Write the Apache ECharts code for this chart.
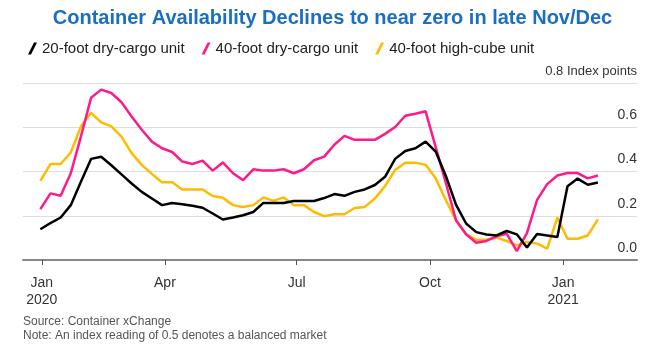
<!DOCTYPE html>
<html>
<head>
<meta charset="utf-8">
<script src="https://cdn.jsdelivr.net/npm/echarts@6/dist/echarts.min.js"></script>
<style>
  html, body { margin: 0; background: #fff; }
  #chart { width: 665px; height: 350px; }
</style>
</head>
<body>
<div id="chart"></div>
<script>
// weekly readings (Mondays)
const weeks = [
  '2020-01-06', '2020-01-13', '2020-01-20', '2020-01-27', '2020-02-03', '2020-02-10', '2020-02-17', '2020-02-24',
  '2020-03-02', '2020-03-09', '2020-03-16', '2020-03-23', '2020-03-30', '2020-04-06', '2020-04-13', '2020-04-20',
  '2020-04-27', '2020-05-04', '2020-05-11', '2020-05-18', '2020-05-25', '2020-06-01', '2020-06-08', '2020-06-15',
  '2020-06-22', '2020-06-29', '2020-07-06', '2020-07-13', '2020-07-20', '2020-07-27', '2020-08-03', '2020-08-10',
  '2020-08-17', '2020-08-24', '2020-08-31', '2020-09-07', '2020-09-14', '2020-09-21', '2020-09-28', '2020-10-05',
  '2020-10-12', '2020-10-19', '2020-10-26', '2020-11-02', '2020-11-09', '2020-11-16', '2020-11-23', '2020-11-30',
  '2020-12-07', '2020-12-14', '2020-12-21', '2020-12-28', '2021-01-04', '2021-01-11', '2021-01-18', '2021-01-25'
]
const dry20 = [
  0.139, 0.167, 0.192, 0.248, 0.354, 0.457, 0.467, 0.428, 0.387, 0.346, 0.308, 0.278, 0.248, 0.258,
  0.252, 0.245, 0.236, 0.210, 0.183, 0.192, 0.202, 0.217, 0.258, 0.258, 0.258, 0.267, 0.267, 0.267,
  0.280, 0.298, 0.290, 0.308, 0.319, 0.339, 0.376, 0.457, 0.493, 0.505, 0.535, 0.490, 0.380, 0.250,
  0.165, 0.126, 0.115, 0.111, 0.131, 0.116, 0.056, 0.117, 0.111, 0.104, 0.333, 0.368, 0.340, 0.350
]
const dry40 = [
  0.230, 0.301, 0.290, 0.392, 0.558, 0.733, 0.770, 0.755, 0.713, 0.649, 0.589, 0.535, 0.505, 0.488,
  0.445, 0.434, 0.449, 0.404, 0.441, 0.392, 0.361, 0.410, 0.404, 0.404, 0.410, 0.392, 0.410, 0.451,
  0.467, 0.521, 0.561, 0.543, 0.543, 0.543, 0.570, 0.601, 0.652, 0.661, 0.672, 0.510, 0.348, 0.180,
  0.116, 0.078, 0.086, 0.107, 0.119, 0.040, 0.121, 0.272, 0.343, 0.382, 0.393, 0.393, 0.369, 0.382
]
const highCube40 = [
  0.358, 0.434, 0.434, 0.486, 0.604, 0.665, 0.622, 0.604, 0.558, 0.483, 0.430, 0.389, 0.351, 0.351,
  0.319, 0.319, 0.319, 0.289, 0.281, 0.248, 0.240, 0.248, 0.283, 0.267, 0.283, 0.248, 0.248, 0.217,
  0.198, 0.207, 0.207, 0.235, 0.240, 0.278, 0.334, 0.407, 0.440, 0.440, 0.430, 0.369, 0.270, 0.180,
  0.116, 0.092, 0.092, 0.101, 0.086, 0.066, 0.081, 0.074, 0.051, 0.192, 0.096, 0.096, 0.111, 0.183
]
const seriesNames = ['20-foot dry-cargo unit', '40-foot dry-cargo unit', '40-foot high-cube unit']
const tickDates = ['2020-01-07', '2020-04-01', '2020-07-01', '2020-10-01', '2021-01-01']
const tickLabels = ['Jan\n2020', 'Apr', 'Jul', 'Oct', 'Jan\n2021']

// x axis runs in days counted from 1 Jan 2020
const day0 = Date.UTC(2020, 0, 1)
const toDay = (s) => {
  const p = s.split('-')
  return Math.round((Date.UTC(+p[0], +p[1] - 1, +p[2]) - day0) / 86400000)
}
const tickDays = tickDates.map(toDay)
const pairs = (vals) => weeks.map((d, i) => [toDay(d), vals[i]])

const font = 'Liberation Sans, Arial, sans-serif'
const slash = 'path://M0,12 L3,12 L9,0 L6,0 Z'

const chart = echarts.init(document.getElementById('chart'))
const option = {
  animation: false,
  textStyle: { fontFamily: font },
  title: {
    text: 'Container Availability Declines to near zero in late Nov/Dec',
    left: 'center',
    top: 3,
    textStyle: { color: '#1a6ec4', fontSize: 20, fontWeight: 'bold', fontFamily: font },
  },
  legend: {
    left: 23,
    top: 36,
    itemWidth: 9,
    itemHeight: 13,
    itemGap: 17,
    data: seriesNames.map((n) => ({ name: n, icon: slash })),
    textStyle: { color: '#222', fontSize: 15, fontFamily: font },
  },
  grid: { left: 23, right: 28, top: 83, bottom: 90 },
  xAxis: {
    type: 'value',
    min: toDay('2019-12-25'),
    max: toDay('2021-02-21'),
    axisLine: { lineStyle: { color: '#888', width: 2 } },
    axisTick: {
      customValues: tickDays,
      length: 5,
      lineStyle: { color: '#555', width: 1 },
    },
    axisLabel: {
      customValues: tickDays,
      margin: 15,
      color: '#333',
      fontSize: 14,
      lineHeight: 17,
      fontFamily: font,
      formatter: (v) => {
        const i = tickDays.indexOf(Math.round(v))
        return i >= 0 ? tickLabels[i] : ''
      },
    },
    splitLine: { show: false },
  },
  yAxis: {
    type: 'value',
    position: 'right',
    min: 0,
    max: 0.8,
    interval: 0.2,
    axisLine: { show: false },
    axisTick: { show: false },
    splitLine: { lineStyle: { color: '#dedede', width: 1 } },
    axisLabel: {
      inside: true,
      margin: 0,
      align: 'right',
      verticalAlign: 'bottom',
      padding: [0, 0, 5, 0],
      color: '#333',
      fontSize: 14,
      fontFamily: font,
      showMaxLabel: true,
      formatter: (v) => (Math.abs(v - 0.8) < 1e-6 ? '{s|0.8 Index points}' : v.toFixed(1)),
      rich: { s: { fontSize: 13, color: '#333', fontFamily: font } },
    },
  },
  graphic: [
    {
      type: 'text',
      left: 23,
      top: 315,
      style: {
        text: 'Source: Container xChange\nNote: An index reading of 0.5 denotes a balanced market',
        fill: '#555',
        fontSize: 12,
        lineHeight: 14,
        fontFamily: font,
      },
    },
  ],
  series: [
    {
      name: seriesNames[2],
      type: 'line',
      showSymbol: false,
      data: pairs(highCube40),
      lineStyle: { color: '#ffbb00', width: 2.5 },
      itemStyle: { color: '#ffbb00' },
    },
    {
      name: seriesNames[1],
      type: 'line',
      showSymbol: false,
      data: pairs(dry40),
      lineStyle: { color: '#ff1a8c', width: 2.5 },
      itemStyle: { color: '#ff1a8c' },
    },
    {
      name: seriesNames[0],
      type: 'line',
      showSymbol: false,
      data: pairs(dry20),
      lineStyle: { color: '#000', width: 2.5 },
      itemStyle: { color: '#000' },
    },
  ],
}
chart.setOption(option)
</script>
</body>
</html>
